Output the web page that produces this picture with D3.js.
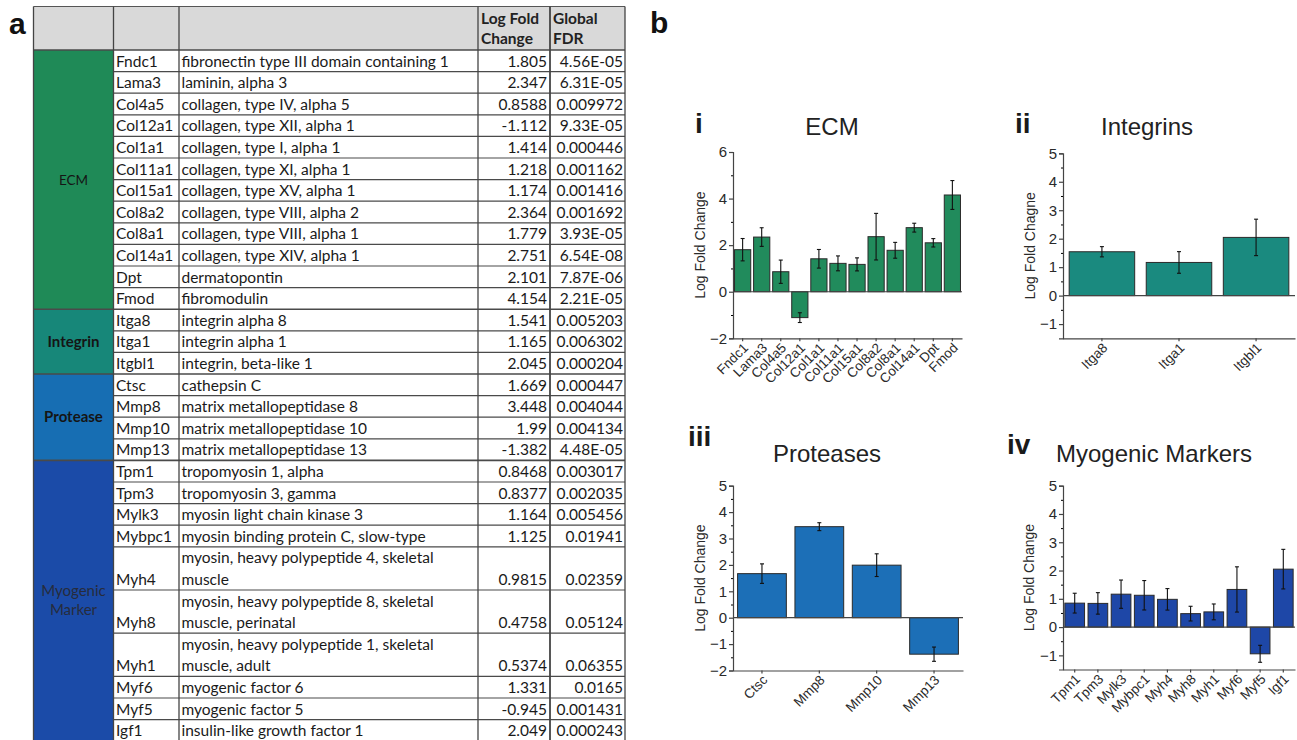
<!DOCTYPE html>
<html>
<head>
<meta charset="utf-8">
<script src="https://cdn.jsdelivr.net/npm/d3@7"></script>
<style>
  body { margin: 0; background: #fff; }
  text { font-family: Arial, "Liberation Sans", sans-serif; }
  .tbl text { font-family: Lato, "Open Sans", sans-serif; }
</style>
</head>
<body>
<script>
// table data
var genes = ["Fndc1", "Lama3", "Col4a5", "Col12a1", "Col1a1", "Col11a1", "Col15a1", "Col8a2",
    "Col8a1", "Col14a1", "Dpt", "Fmod", "Itga8", "Itga1", "Itgbl1", "Ctsc", "Mmp8", "Mmp10",
    "Mmp13", "Tpm1", "Tpm3", "Mylk3", "Mybpc1", "Myh4", "Myh8", "Myh1", "Myf6", "Myf5", "Igf1"];

var descriptions = ["fibronectin type III domain containing 1", "laminin, alpha 3",
    "collagen, type IV, alpha 5", "collagen, type XII, alpha 1", "collagen, type I, alpha 1",
    "collagen, type XI, alpha 1", "collagen, type XV, alpha 1", "collagen, type VIII, alpha 2",
    "collagen, type VIII, alpha 1", "collagen, type XIV, alpha 1", "dermatopontin", "fibromodulin",
    "integrin alpha 8", "integrin alpha 1", "integrin, beta-like 1", "cathepsin C",
    "matrix metallopeptidase 8", "matrix metallopeptidase 10", "matrix metallopeptidase 13",
    "tropomyosin  1, alpha", "tropomyosin  3, gamma", "myosin light chain kinase 3",
    "myosin binding protein C, slow-type", "myosin, heavy polypeptide 4, skeletal\nmuscle",
    "myosin, heavy polypeptide 8, skeletal\nmuscle, perinatal",
    "myosin, heavy polypeptide 1, skeletal\nmuscle, adult", "myogenic factor 6",
    "myogenic factor 5", "insulin-like growth factor 1"];

var lfc = [1.805, 2.347, 0.8588, -1.112, 1.414, 1.218, 1.174, 2.364, 1.779, 2.751, 2.101, 4.154,
    1.541, 1.165, 2.045, 1.669, 3.448, 1.99, -1.382, 0.8468, 0.8377, 1.164, 1.125, 0.9815,
    0.4758, 0.5374, 1.331, -0.945, 2.049];

var fdr = ["4.56E-05", "6.31E-05", "0.009972", "9.33E-05", "0.000446", "0.001162", "0.001416",
    "0.001692", "3.93E-05", "6.54E-08", "7.87E-06", "2.21E-05", "0.005203", "0.006302",
    "0.000204", "0.000447", "0.004044", "0.004134", "4.48E-05", "0.003017", "0.002035",
    "0.005456", "0.01941", "0.02359", "0.05124", "0.06355", "0.0165", "0.001431", "0.000243"];

var groupNames = ["ECM", "Integrin", "Protease", "Myogenic\nMarker"];
var groupSizes = [12, 3, 4, 10];

// error bars
var ecmErr = [0.48, 0.40, 0.50, 0.21, 0.40, 0.32, 0.28, 1.00, 0.34, 0.19, 0.18, 0.62];
var integrinErr = [0.18, 0.38, 0.64];
var proteaseErr = [0.37, 0.15, 0.43, 0.27];
var myogenicErr = [0.35, 0.38, 0.50, 0.52, 0.38, 0.26, 0.28, 0.80, 0.30, 0.70];

var tableColors = ["#1f8a57", "#178779", "#176eb3", "#1b4ba8"];
var barColors = ["#218b5c", "#1a8a7f", "#1c6fb7", "#1e47a7"];

var W = 1297, H = 740;
var svg = d3.select("body").append("svg").attr("width", W).attr("height", H);

//---------------- table ----------------
var tbl = svg.append("g").attr("class", "tbl");
var colX = [33.5, 113.5, 179, 478, 550, 625];
var headTop = 6.5, headBot = 50, rowH = 21.6;
var fs = "15.5px";

var units = descriptions.map(d => d.indexOf("\n") >= 0 ? 2 : 1);
var rowTop = [];
var acc = headBot;
units.forEach(function (u) { rowTop.push(acc); acc += u * rowH; });
rowTop.push(acc);

tbl.append("rect")
    .attr("x", colX[0]).attr("y", headTop)
    .attr("width", colX[5] - colX[0]).attr("height", headBot - headTop)
    .attr("fill", "#d9d9d9");

// group cells
var gStart = 0;
groupNames.forEach(function (name, gi) {
    var y0 = rowTop[gStart], y1 = rowTop[gStart + groupSizes[gi]];
    tbl.append("rect")
        .attr("x", colX[0]).attr("y", y0)
        .attr("width", colX[1] - colX[0]).attr("height", y1 - y0)
        .attr("fill", tableColors[gi]);
    var lines = name.split("\n");
    lines.forEach(function (ln, li) {
        tbl.append("text")
            .attr("x", (colX[0] + colX[1]) / 2)
            .attr("y", (y0 + y1) / 2 + 5 + (li - (lines.length - 1) / 2) * 19)
            .attr("text-anchor", "middle")
            .attr("font-size", gi == 0 ? "13.5px" : "15px")
            .attr("font-weight", gi == 1 || gi == 2 ? "bold" : "normal")
            .attr("fill", gi == 3 ? "#262c3c" : "#151515")
            .text(ln);
    });
    gStart += groupSizes[gi];
});

// header text
[["Log Fold", "Change"], ["Global", "FDR"]].forEach(function (h, i) {
    h.forEach(function (t, j) {
        tbl.append("text")
            .attr("x", colX[3 + i] + 3).attr("y", 24 + j * 20)
            .attr("font-size", fs).attr("font-weight", "bold").attr("fill", "#222")
            .text(t);
    });
});

// rows
genes.forEach(function (g, i) {
    var base = rowTop[i] + 16.5 + (units[i] - 1) * rowH;
    tbl.append("text").attr("x", colX[1] + 2.5).attr("y", base)
        .attr("font-size", fs).attr("fill", "#1a1a1a").text(g);
    descriptions[i].split("\n").forEach(function (ln, li) {
        tbl.append("text").attr("x", colX[2] + 2.5).attr("y", rowTop[i] + 16.5 + li * rowH)
            .attr("font-size", fs).attr("fill", "#1a1a1a").text(ln);
    });
    tbl.append("text").attr("x", colX[4] - 3).attr("y", base)
        .attr("text-anchor", "end").attr("font-size", fs).attr("fill", "#1a1a1a")
        .text(String(lfc[i]));
    tbl.append("text").attr("x", colX[5] - 2).attr("y", base)
        .attr("text-anchor", "end").attr("font-size", fs).attr("fill", "#1a1a1a")
        .text(fdr[i]);
});

// grid lines
var groupEnds = d3.cumsum(groupSizes);
rowTop.forEach(function (y, i) {
    var full = i == 0 || groupEnds.indexOf(i) >= 0;
    tbl.append("line")
        .attr("x1", full ? colX[0] : colX[1]).attr("x2", colX[5])
        .attr("y1", y).attr("y2", y)
        .attr("stroke", "#4a4a4a").attr("stroke-width", full ? 1.6 : 1.2);
});
tbl.append("line").attr("x1", colX[0]).attr("x2", colX[5])
    .attr("y1", headTop).attr("y2", headTop).attr("stroke", "#555").attr("stroke-width", 1.2);
colX.forEach(function (x, i) {
    tbl.append("line").attr("x1", x).attr("x2", x)
        .attr("y1", headTop).attr("y2", H)
        .attr("stroke", "#444").attr("stroke-width", i == 4 ? 1.8 : 1.3);
});

// panel letters
svg.append("text").attr("x", 9).attr("y", 34).attr("font-size", "30px")
    .attr("font-weight", "bold").attr("fill", "#111").text("a");
svg.append("text").attr("x", 650).attr("y", 33).attr("font-size", "30px")
    .attr("font-weight", "bold").attr("fill", "#111").text("b");

//---------------- bar charts ----------------
function slice(arr, gi) {
    var s = d3.sum(groupSizes.slice(0, gi));
    return arr.slice(s, s + groupSizes[gi]);
}

var panels = [
    { tag: "i", title: "ECM", gi: 0, err: ecmErr, x0: 733, x1: 962, yTop: 152, yBot: 338.3,
      domain: [-2, 6], major: [-2, 0, 2, 4, 6], minor: [-1, 1, 3, 5], ylab: "Log Fold Change",
      tagX: 695, tagY: 133, titleX: 832, titleY: 135, labX: 705 },
    { tag: "ii", title: "Integrins", gi: 1, err: integrinErr, x0: 1063, x1: 1295, yTop: 153.3, yBot: 338.3,
      domain: [-1.5, 5], major: [-1, 0, 1, 2, 3, 4, 5], minor: [-0.5, 0.5, 1.5, 2.5, 3.5, 4.5],
      ylab: "Log Fold Chagne", tagX: 1015, tagY: 133, titleX: 1147, titleY: 135, labX: 1035 },
    { tag: "iii", title: "Proteases", gi: 2, err: proteaseErr, x0: 733, x1: 963, yTop: 485.7, yBot: 670.5,
      domain: [-2, 5], major: [-2, -1, 0, 1, 2, 3, 4, 5], minor: [-1.5, -0.5, 0.5, 1.5, 2.5, 3.5, 4.5],
      ylab: "Log Fold Change", tagX: 688, tagY: 446, titleX: 827, titleY: 462, labX: 705 },
    { tag: "iv", title: "Myogenic Markers", gi: 3, err: myogenicErr, x0: 1063, x1: 1295, yTop: 485.7, yBot: 669.5,
      domain: [-1.5, 5], major: [-1, 0, 1, 2, 3, 4, 5], minor: [-0.5, 0.5, 1.5, 2.5, 3.5, 4.5],
      ylab: "Log Fold Change", tagX: 1007, tagY: 454, titleX: 1154, titleY: 462, labX: 1034 }
];

panels.forEach(function (p) {
    var names = slice(genes, p.gi);
    var vals = slice(lfc, p.gi);
    var g = svg.append("g");

    var x = d3.scaleBand().domain(names).range([p.x0, p.x1]).paddingInner(0.15).paddingOuter(0.08);
    var y = d3.scaleLinear().domain(p.domain).range([p.yBot, p.yTop]);

    g.append("text").attr("x", p.tagX).attr("y", p.tagY)
        .attr("font-size", "28px").attr("font-weight", "bold").attr("fill", "#1a1a1a").text(p.tag);
    g.append("text").attr("x", p.titleX).attr("y", p.titleY).attr("text-anchor", "middle")
        .attr("font-family", "Lato, 'Open Sans', sans-serif")
        .attr("font-size", "24px").attr("fill", "#222").text(p.title);

    // bars
    g.selectAll("rect.bar").data(vals).enter().append("rect")
        .attr("x", (d, i) => x(names[i]))
        .attr("y", d => y(Math.max(0, d)))
        .attr("width", x.bandwidth())
        .attr("height", d => Math.abs(y(d) - y(0)))
        .attr("fill", barColors[p.gi])
        .attr("stroke", "#2a2a2a").attr("stroke-width", 1);

    // error bars
    var eb = g.selectAll("g.err").data(vals).enter().append("g")
        .attr("stroke", "#111").attr("stroke-width", 1.1);
    eb.append("line")
        .attr("x1", (d, i) => x(names[i]) + x.bandwidth() / 2)
        .attr("x2", (d, i) => x(names[i]) + x.bandwidth() / 2)
        .attr("y1", (d, i) => y(d + p.err[i]))
        .attr("y2", (d, i) => y(d - p.err[i]));
    [1, -1].forEach(function (s) {
        eb.append("line")
            .attr("x1", (d, i) => x(names[i]) + x.bandwidth() / 2 - 2)
            .attr("x2", (d, i) => x(names[i]) + x.bandwidth() / 2 + 2)
            .attr("y1", (d, i) => y(d + s * p.err[i]))
            .attr("y2", (d, i) => y(d + s * p.err[i]));
    });

    // zero line
    g.append("line").attr("x1", p.x0).attr("x2", p.x1)
        .attr("y1", y(0)).attr("y2", y(0))
        .attr("stroke", "#444").attr("stroke-width", 1.2);

    // y axis
    var ya = g.append("g").attr("transform", "translate(" + p.x0 + ",0)")
        .call(d3.axisLeft(y).tickValues(p.major).tickSize(4).tickPadding(2).tickFormat(d3.format("d")));
    g.append("g").attr("transform", "translate(" + p.x0 + ",0)")
        .call(d3.axisLeft(y).tickValues(p.minor).tickSize(2).tickFormat(""))
        .select(".domain").remove();
    ya.selectAll("text").style("font-size", "15px").attr("fill", "#2a2a2a")
        .style("font-family", "Arial, 'Liberation Sans', sans-serif");
    ya.selectAll("line,path").attr("stroke", "#444").attr("stroke-width", 1.2);

    // x axis
    var xa = g.append("g").attr("transform", "translate(0," + p.yBot + ")")
        .call(d3.axisBottom(x).tickSize(3).tickSizeOuter(0).tickFormat(""));
    xa.selectAll("line,path").attr("stroke", "#444").attr("stroke-width", 1.2);
    g.selectAll("text.xl").data(names).enter().append("text")
        .attr("transform", d => "translate(" + (x(d) + x.bandwidth() / 2 + 3) + "," + (p.yBot + 7) + ") rotate(-45)")
        .attr("text-anchor", "end").attr("dy", "0.35em")
        .attr("font-size", "13.5px").attr("fill", "#2a2a2a")
        .text(d => d);

    g.append("text")
        .attr("transform", "translate(" + p.labX + "," + ((p.yTop + p.yBot) / 2) + ") rotate(-90)")
        .attr("text-anchor", "middle").attr("font-size", "14px").attr("fill", "#2a2a2a")
        .text(p.ylab);
});
</script>
</body>
</html>
